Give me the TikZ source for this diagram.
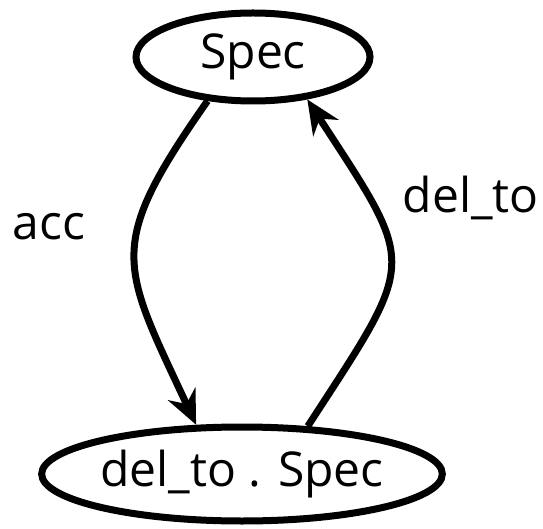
\documentclass[tikz,border=0pt]{standalone}
\usepackage{fontspec}
\setmainfont{Open Sans}
\usetikzlibrary{arrows.meta,shapes.geometric,positioning}

\begin{document}
\begin{tikzpicture}[x=1pt,y=1pt,->,>={Stealth[length=34pt,width=30pt]}, line width=7pt,
  state/.style={draw,ellipse,inner sep=0pt,font=\fontsize{48}{58}\selectfont},
  lbl/.style={inner sep=0pt,font=\fontsize{48}{58}\selectfont}]
  \useasboundingbox (0,0) rectangle (543,-529);
  \node[state,minimum width=234pt,minimum height=88pt] (spec) at (253,-57) {Spec};
  \node[state,minimum width=354pt,minimum height=94pt] (delspec) at (242,-474) {del\_to . Spec};
  \draw (spec.224) to[out=235,in=115,looseness=1.41] node[lbl,pos=0.38,left=50pt] {acc} (delspec.133);
  \draw (delspec.36) to[out=57,in=303,looseness=1.59] node[lbl,pos=0.75,right=30pt] {del\_to} (spec.322);
\end{tikzpicture}
\end{document}
